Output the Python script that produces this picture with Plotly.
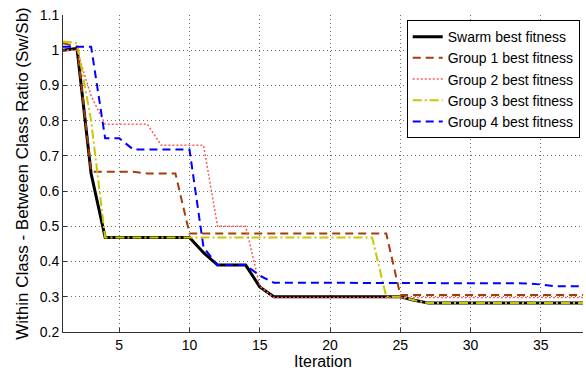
import plotly.graph_objects as go

iterations = list(range(1, 39))

swarm = [1.0, 1.005, 0.65, 0.468] + [0.468] * 6 + [0.425] + [0.39] * 3 + [0.328] + [0.30] * 10 + [0.29] + [0.282] * 12
group1 = [1.02, 1.01] + [0.655] * 4 + [0.65] * 3 + [0.48] * 15 + [0.305] * 14
group2 = [1.0, 1.0, 0.87] + [0.79] * 4 + [0.73] * 4 + [0.50] * 3 + [0.33] + [0.298] * 23
group3 = [1.025, 1.02, 0.80] + [0.468] * 20 + [0.30, 0.30, 0.29] + [0.282] * 12
group4 = [1.01, 1.01, 1.01, 0.75, 0.75] + [0.718] * 5 + [0.44] + [0.39] * 3 + [0.36] + [0.34] * 18 + [0.338, 0.335] + [0.33] * 3

series = [
    ("Swarm best fitness", swarm, "black", "solid", 3),
    ("Group 1 best fitness", group1, "rgb(165,60,10)", "8px,5px", 2),
    ("Group 2 best fitness", group2, "rgb(255,90,90)", "2px,2px", 1.5),
    ("Group 3 best fitness", group3, "rgb(200,200,0)", "9px,3px,2px,3px", 2),
    ("Group 4 best fitness", group4, "rgb(0,0,255)", "8px,5px", 2),
]

fig = go.Figure()
for name, ys, color, dash, w in series:
    fig.add_trace(go.Scatter(x=iterations, y=ys, mode="lines", name=name,
                             line=dict(color=color, dash=dash, width=w)))

xticks = [5, 10, 15, 20, 25, 30, 35]
yticks = [0.2, 0.3, 0.4, 0.5, 0.6, 0.7, 0.8, 0.9, 1.0, 1.1]
yticklabels = ["0.2", "0.3", "0.4", "0.5", "0.6", "0.7", "0.8", "0.9", "1", "1.1"]

fig.update_layout(
    width=586, height=374,
    margin=dict(l=63, r=3, t=15, b=42, autoexpand=False),
    paper_bgcolor="white", plot_bgcolor="white",
    font=dict(family="Liberation Sans, Arial, sans-serif", size=14, color="black"),
    legend=dict(x=0.661, y=0.984, xanchor="left", yanchor="top",
                bgcolor="white", bordercolor="black", borderwidth=1,
                font=dict(size=14), tracegroupgap=0, itemwidth=30),
    showlegend=True,
)
fig.update_xaxes(range=[1, 38], tickvals=xticks, showgrid=True,
                 gridcolor="rgb(110,110,110)", griddash="1px,3px", gridwidth=1,
                 showline=True, linecolor="rgb(50,50,50)", linewidth=1,
                 ticks="inside", ticklen=4, tickcolor="rgb(50,50,50)",
                 tickfont=dict(size=14),
                 zeroline=False, title=dict(text="Iteration", font=dict(size=16), standoff=3))
fig.update_yaxes(range=[0.2, 1.1], tickvals=yticks, ticktext=yticklabels, showgrid=True,
                 gridcolor="rgb(110,110,110)", griddash="1px,3px", gridwidth=1,
                 showline=True, linecolor="rgb(50,50,50)", linewidth=1,
                 ticks="inside", ticklen=4, tickcolor="rgb(50,50,50)",
                 tickfont=dict(size=14),
                 zeroline=False,
                 title=dict(text="Within Class - Between Class Ratio (Sw/Sb)", font=dict(size=17), standoff=6))

fig.write_html("out.html", config={"displayModeBar": False},
               post_script="document.body.style.margin='0';document.body.style.overflow='hidden';")
